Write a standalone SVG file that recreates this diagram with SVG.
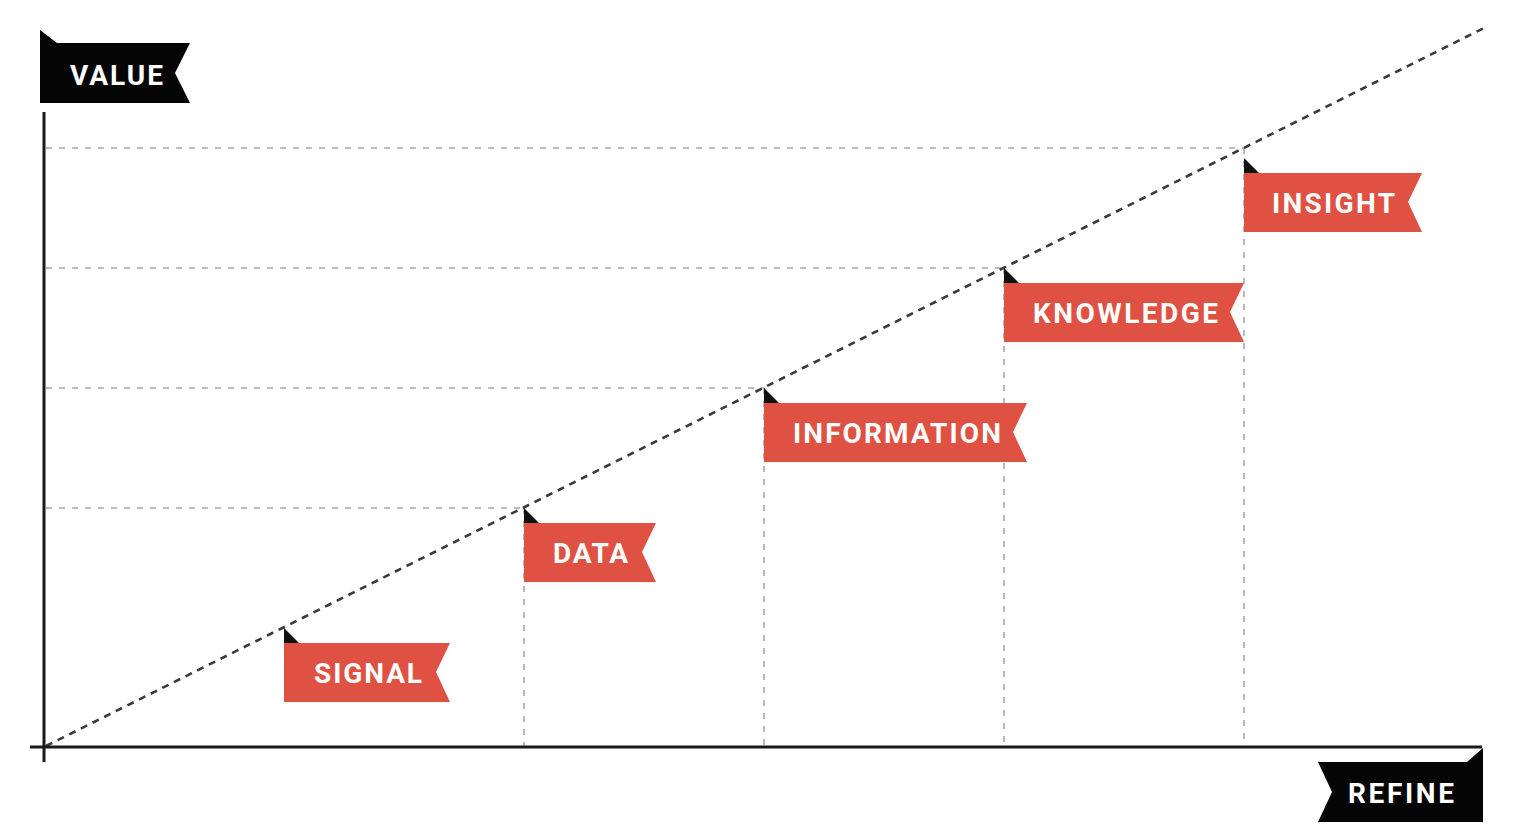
<svg xmlns="http://www.w3.org/2000/svg" width="1518" height="840" viewBox="0 0 1518 840">
  <style>
    .grid { stroke: #a8a8a8; stroke-width: 1.6; stroke-dasharray: 6 7; fill: none; }
    .trend { stroke: #3a3a3a; stroke-width: 2.6; stroke-dasharray: 7 6; fill: none; }
    .axis { stroke: #1a1a1a; stroke-width: 3; fill: none; }
    .flag { fill: #df5142; }
    .tip { fill: #111; }
    .black { fill: #050505; }
    .lbl { font-family: Roboto, "DejaVu Sans", sans-serif; font-weight: 700; font-size: 28px; fill: #ffffff; }
  </style>

  <g id="connectors">
    <!-- guide lines from each stage back to the axes -->
    <line class="grid" x1="46" y1="148" x2="1244" y2="148"/>
    <line class="grid" x1="46" y1="268" x2="1004" y2="268"/>
    <line class="grid" x1="46" y1="388" x2="764" y2="388"/>
    <line class="grid" x1="46" y1="508" x2="524" y2="508"/>
    <line class="grid" x1="524" y1="508" x2="524" y2="746"/>
    <line class="grid" x1="764" y1="388" x2="764" y2="746"/>
    <line class="grid" x1="1004" y1="268" x2="1004" y2="746"/>
    <line class="grid" x1="1244" y1="148" x2="1244" y2="746"/>
    <!-- rising trend line -->
    <line class="trend" x1="46" y1="746" x2="1484" y2="28"/>
    <!-- axes -->
    <line class="axis" x1="44" y1="112" x2="44" y2="762"/>
    <line class="axis" x1="30" y1="747" x2="1482" y2="747"/>
  </g>

  <g id="value">
    <polygon class="black" points="40,30 57,43 190,43 175,73 190,103 40,103"/>
    <text class="lbl" x="70" y="85" textLength="93" lengthAdjust="spacing">VALUE</text>
  </g>

  <g id="refine">
    <polygon class="black" points="1318,762 1467,762 1483,748 1483,822 1318,822 1332,792"/>
    <text class="lbl" x="1348" y="803" textLength="106" lengthAdjust="spacing">REFINE</text>
  </g>

  <g id="signal">
    <polygon class="tip" points="284,628 284,643 299,643"/>
    <polygon class="flag" points="284,643 450,643 436,672 450,702 284,702"/>
    <text class="lbl" x="314" y="683" textLength="108" lengthAdjust="spacing">SIGNAL</text>
  </g>

  <g id="data">
    <polygon class="tip" points="524,508 524,523 539,523"/>
    <polygon class="flag" points="524,523 656,523 642,552 656,582 524,582"/>
    <text class="lbl" x="553" y="563" textLength="75" lengthAdjust="spacing">DATA</text>
  </g>

  <g id="information">
    <polygon class="tip" points="764,388 764,403 779,403"/>
    <polygon class="flag" points="764,403 1027,403 1013,432 1027,462 764,462"/>
    <text class="lbl" x="793" y="443" textLength="208" lengthAdjust="spacing">INFORMATION</text>
  </g>

  <g id="knowledge">
    <polygon class="tip" points="1004,268 1004,283 1019,283"/>
    <polygon class="flag" points="1004,283 1244,283 1230,312 1244,342 1004,342"/>
    <text class="lbl" x="1033" y="323" textLength="185" lengthAdjust="spacing">KNOWLEDGE</text>
  </g>

  <g id="insight">
    <polygon class="tip" points="1244,158 1244,173 1259,173"/>
    <polygon class="flag" points="1244,173 1422,173 1408,202 1422,232 1244,232"/>
    <text class="lbl" x="1272" y="213" textLength="123" lengthAdjust="spacing">INSIGHT</text>
  </g>
</svg>
